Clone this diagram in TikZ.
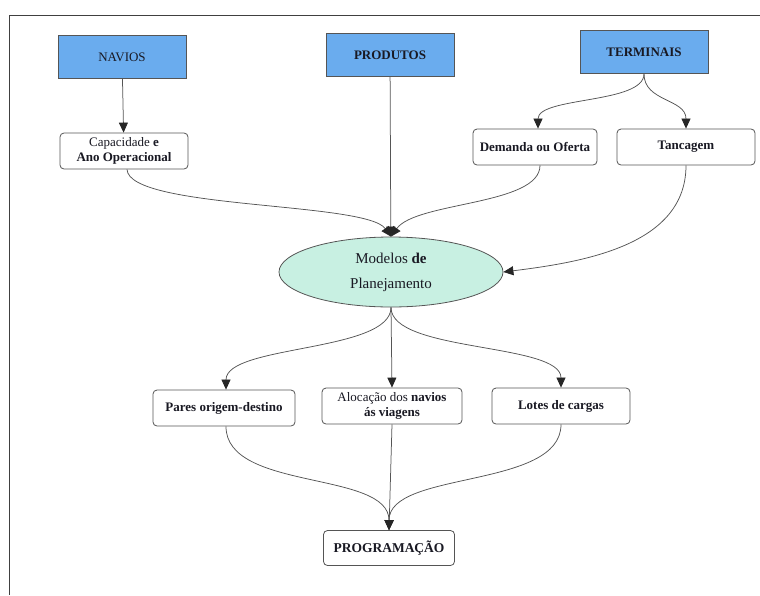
\documentclass[tikz,border=0pt]{standalone}
\usepackage{fontspec}
\setmainfont{Liberation Serif}
\usetikzlibrary{arrows.meta,shapes.geometric}
\definecolor{headblue}{RGB}{106,172,238}
\definecolor{modelfill}{RGB}{200,240,226}
\definecolor{linegray}{RGB}{85,85,85}
\definecolor{textdark}{RGB}{25,25,35}
\begin{document}
\begin{tikzpicture}[x=1pt,y=-1pt,
  headbox/.style={draw=linegray,line width=0.8pt,fill=headblue,minimum width=128pt,minimum height=43pt,
    font=\fontsize{13}{15}\selectfont\bfseries,text=textdark,inner sep=0pt},
  infobox/.style={draw=linegray,line width=0.8pt,fill=white,rounded corners=4pt,minimum height=36pt,
    align=center,font=\fontsize{13}{14.5}\selectfont,text=textdark,inner sep=0pt},
  boldbox/.style={infobox,font=\fontsize{13}{14.5}\selectfont\bfseries},
  modelbox/.style={draw=linegray,line width=0.8pt,fill=modelfill,ellipse,minimum width=224pt,minimum height=70pt,
    align=center,font=\fontsize{15}{25}\selectfont,text=textdark,inner sep=0pt},
  link/.style={draw=linegray,line width=0.75pt,-{Triangle[length=10pt,width=9pt,color=black!85]}}
]
\useasboundingbox (0,0) rectangle (760,595);
% outer frame (top and left edges)
\draw[line width=1pt,black!75] (760,15) -- (9,15) -- (9,595);

% inputs
\node[headbox] (nav) at (122,57) {\mdseries NAVIOS};
\node[headbox] (prod) at (390,55) {PRODUTOS};
\node[headbox] (term) at (644,52) {TERMINAIS};

% attributes
\node[infobox,minimum width=128pt] (cap) at (124,151) {Capacidade \textbf{e}\\\textbf{Ano Operacional}};
\node[boldbox,minimum width=124pt] (dem) at (535,147) {Demanda ou Oferta};
\node[boldbox,minimum width=138pt] (tanc) at (686,147) {Tancagem};

% planning model
\node[modelbox] (mod) at (391,272) {Modelos \textbf{de}\\Planejamento};

% outputs
\node[boldbox,minimum width=142pt] (pares) at (224,408) {Pares origem-destino};
\node[infobox,minimum width=140pt] (aloc) at (392,406) {Alocação dos \textbf{navios}\\\textbf{ás viagens}};
\node[boldbox,minimum width=138pt] (lotes) at (561,406) {Lotes de cargas};
\node[boldbox,minimum width=131pt,minimum height=35pt,font=\fontsize{13.5}{15}\selectfont\bfseries] (prog) at (389,548) {PROGRAMAÇÃO};

% connectors into the model
\draw[link] (nav) -- (cap);
\draw[link] (prod) -- (mod);
\draw[link] (term.south) .. controls +(0,30) and +(0,-32) .. ([xshift=3pt]dem.north);
\draw[link] (term.south) .. controls +(0,28) and +(0,-30) .. (tanc.north);
\draw[link] ([xshift=3pt]cap.south) .. controls +(2,40) and +(-25,-35) .. (mod.north);
\draw[link] ([xshift=5pt]dem.south) .. controls +(0,40) and +(25,-35) .. (mod.north);
\draw[link] (tanc.south) .. controls +(0,80) and +(80,-10) .. (mod.east);

% connectors out of the model
\draw[link] (mod.south) .. controls +(0,45) and +(0,-45) .. ([xshift=2pt]pares.north);
\draw[link] (mod.south) -- (aloc.north);
\draw[link] (mod.south) .. controls +(0,45) and +(0,-45) .. (lotes.north);

% connectors into the schedule
\draw[link] ([xshift=2pt]pares.south) .. controls +(0,65) and +(0,-60) .. (prog.north);
\draw[link] (aloc.south) -- (prog.north);
\draw[link] (lotes.south) .. controls +(0,65) and +(0,-60) .. (prog.north);
\end{tikzpicture}
\end{document}
